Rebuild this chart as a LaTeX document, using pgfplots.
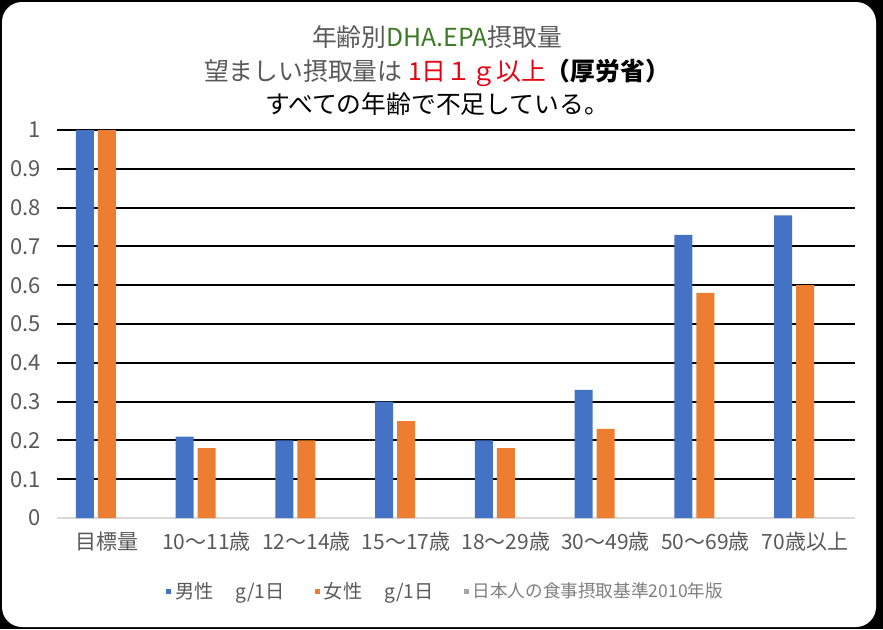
\documentclass[border=0pt]{standalone}
\usepackage{pgfplots}
\pgfplotsset{compat=1.18}
\usepackage{fontspec}
\setmainfont{Noto Sans CJK JP}
\setsansfont{Noto Sans CJK JP}
\definecolor{cblue}{HTML}{4472C4}
\definecolor{corange}{HTML}{ED7D31}
\definecolor{cgrey}{HTML}{A5A5A5}
\definecolor{ctext}{HTML}{595959}
\definecolor{cgreen}{HTML}{3C7A24}
\definecolor{cred}{HTML}{E60012}
\definecolor{cbase}{HTML}{D9D9D9}
\begin{document}
\begin{tikzpicture}
\useasboundingbox (0,0) rectangle (441.5pt,314.5pt);
\fill[black] (0,0) rectangle (441.5pt,314.5pt);
\fill[white, rounded corners=10pt] (1pt,1pt) rectangle (438pt,313.5pt);
\node[align=center, font=\fontsize{12.4}{16.75}\selectfont, anchor=center] at (218.5pt,279pt)
 {\textcolor{ctext}{年齢別}\textcolor{cgreen}{DHA.EPA}\textcolor{ctext}{摂取量}\\
  \textcolor{ctext}{望ましい摂取量は} \textcolor{cred}{1日１ｇ以上}\textbf{（厚労省）}\\
  すべての年齢で不足している。};
\begin{axis}[
  at={(28.5pt,55.5pt)}, anchor=south west,
  scale only axis, width=399pt, height=194pt,
  xmin=-0.5, xmax=7.5, ymin=0, ymax=1,
  axis x line*=bottom, axis y line*=left,
  x axis line style={draw=cbase, line width=1pt, -},
  y axis line style={draw=none},
  major tick length=0pt,
  xtick={0,1,2,3,4,5,6,7},
  xticklabels={目標量,10〜11歳,12〜14歳,15〜17歳,18〜29歳,30〜49歳,50〜69歳,70歳以上},
  ytick={0,0.1,0.2,0.3,0.4,0.5,0.6,0.7,0.8,0.9,1},
  yticklabels={0,0.1,0.2,0.3,0.4,0.5,0.6,0.7,0.8,0.9,1},
  ymajorgrids, grid style={black, line width=1pt},
  xticklabel style={font=\fontsize{10.5}{12}\selectfont, text=ctext, yshift=-3.5pt},
  yticklabel style={font=\fontsize{11}{13}\selectfont, text=ctext, xshift=-8pt, inner sep=0pt},
  ybar, bar width=9pt,
  legend style={at={(0.488,-0.19)}, anchor=center, draw=none, fill=none,
    legend columns=3, font=\fontsize{9.6}{11}\selectfont, text=ctext,
    /tikz/every even column/.append style={column sep=13pt},
    inner sep=0pt},
  legend image code/.code={\fill[#1] (0pt,-1.3pt) rectangle (2.6pt,1.3pt);},
]
\addplot[fill=cblue, draw=none, bar shift=-11pt] coordinates
  {(0,1) (1,0.21) (2,0.20) (3,0.30) (4,0.20) (5,0.33) (6,0.73) (7,0.78)};
\addlegendentry{男性\hspace{11pt}g/1日}
\addplot[fill=corange, draw=none, bar shift=0pt] coordinates
  {(0,1) (1,0.18) (2,0.20) (3,0.25) (4,0.18) (5,0.23) (6,0.58) (7,0.60)};
\addlegendentry{女性\hspace{11pt}g/1日}
\addlegendimage{fill=cgrey, draw=none}
\addlegendentry{\fontsize{8.8}{10}\selectfont\textcolor{gray}{日本人の食事摂取基準2010年版}}
\end{axis}
\end{tikzpicture}
\end{document}
